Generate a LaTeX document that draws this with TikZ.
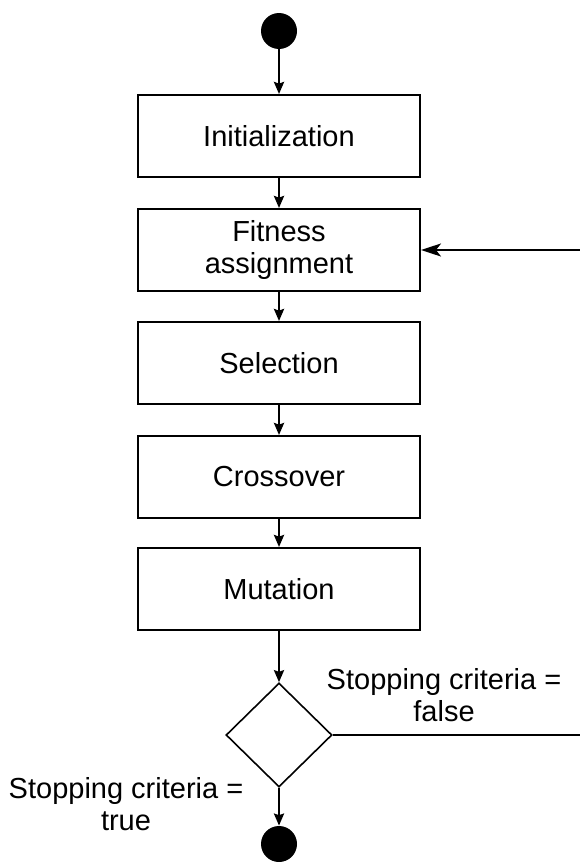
\documentclass[tikz,border=0pt]{standalone}
\usepackage{fontspec}
\setmainfont{Liberation Sans}
\usetikzlibrary{shapes.geometric,arrows.meta}

\begin{document}
\begin{tikzpicture}[x=0.5pt, y=-0.5pt,
    every node/.style={font=\fontsize{14.5}{16}\selectfont},
    procbox/.style={draw, line width=1pt, minimum width=141pt, minimum height=41pt, inner sep=0pt, align=center},
    dot/.style={circle, fill=black, minimum size=18pt, inner sep=0pt},
    decide/.style={diamond, draw, line width=0.8pt, minimum width=53pt, minimum height=52pt, inner sep=0pt},
    flow/.style={line width=1.2pt, -{Stealth[length=6pt, width=5pt, inset=0.8pt]}},
    back/.style={line width=1pt, -{Stealth[length=10pt, width=6.5pt, inset=2.5pt]}},
    lbl/.style={align=center, inner sep=0pt, anchor=north}]
    \useasboundingbox (0,0) rectangle (579,862);
    \def\CX{279}
    \node[dot] (start) at (\CX,31) {};
    \foreach \name/\y/\txt in {init/136/Initialization, fit/250/{Fitness\\assignment},
        sel/363/Selection, cross/477/Crossover, mut/589/Mutation} {
      \node[procbox] (\name) at (\CX,\y) {\txt};
    }
    \node[decide] (dec) at (\CX,735) {};
    \node[dot] (stop) at (\CX,844) {};
    \coordinate (exitR) at (582,735);
    \coordinate (backR) at (582,250);

    \draw[flow] (start) -- (init);
    \draw[flow] (init) -- (fit);
    \draw[flow] (fit) -- (sel);
    \draw[flow] (sel) -- (cross);
    \draw[flow] (cross) -- (mut);
    \draw[flow] (mut) -- (dec);
    \draw[flow] (dec) -- (stop);
    \draw[line width=1pt] (dec.east) -- (exitR);
    \draw[back] (backR) -- (fit.east);

    \node[lbl] (falselbl) at (444,668) {Stopping criteria =\\false};
    \node[lbl] (truelbl) at (126,777) {Stopping criteria =\\true};
\end{tikzpicture}
\end{document}
